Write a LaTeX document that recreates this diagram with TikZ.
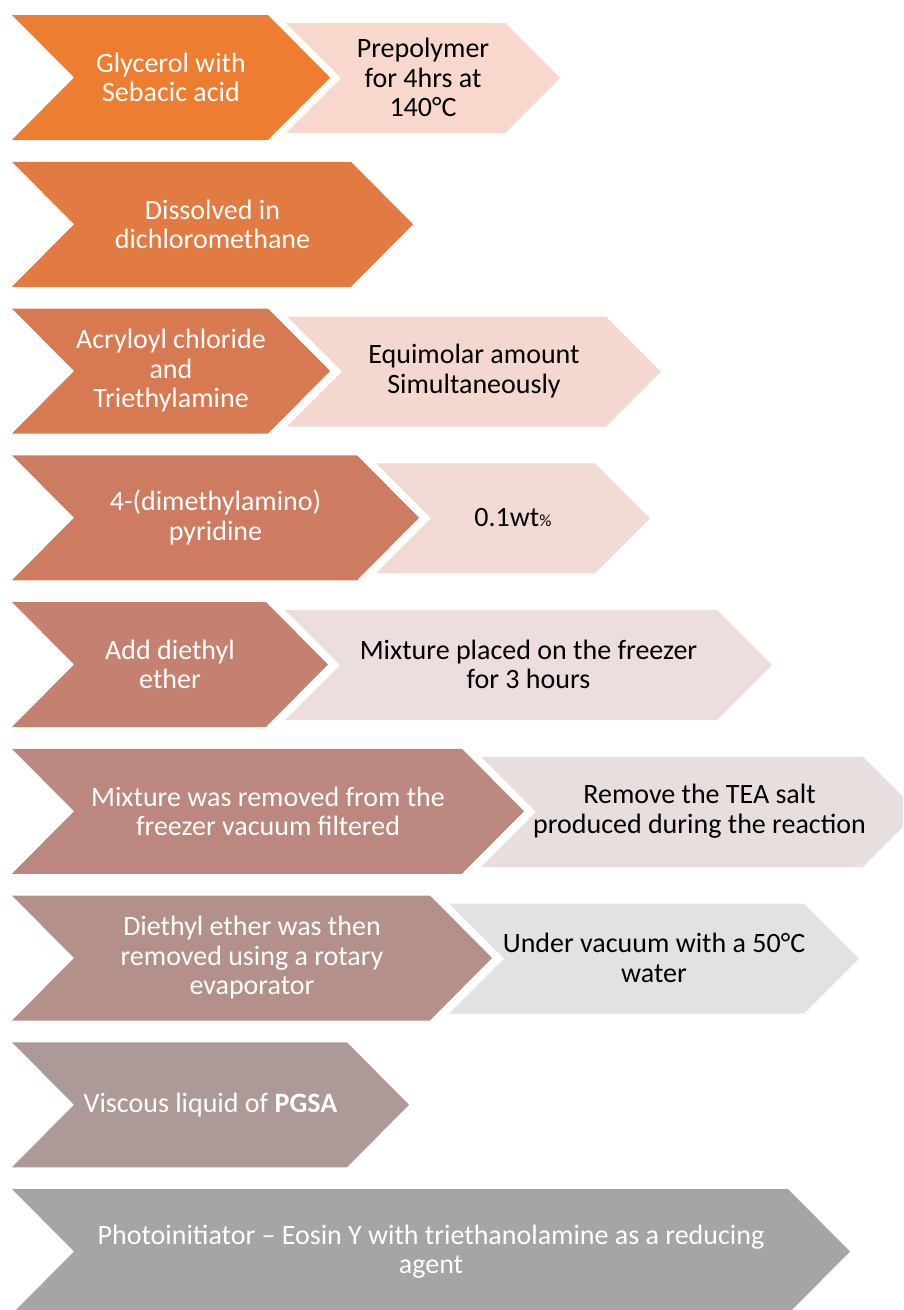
\documentclass[tikz,border=0pt]{standalone}
\usepackage{fontspec}
\setmainfont{Carlito}
\newcommand*{\steptext}{\fontsize{28}{29.5}\selectfont}
\definecolor{stepA}{RGB}{237,125,49}
\definecolor{stepB}{RGB}{226,123,66}
\definecolor{stepC}{RGB}{215,122,82}
\definecolor{stepD}{RGB}{206,124,97}
\definecolor{stepE}{RGB}{196,129,112}
\definecolor{stepF}{RGB}{188,135,126}
\definecolor{stepG}{RGB}{180,144,139}
\definecolor{stepH}{RGB}{172,153,152}
\definecolor{stepI}{RGB}{165,165,165}
\definecolor{subA}{RGB}{248,216,204}
\definecolor{subC}{RGB}{244,216,208}
\definecolor{subD}{RGB}{241,217,212}
\definecolor{subE}{RGB}{235,222,220}
\definecolor{subF}{RGB}{231,222,221}
\definecolor{subG}{RGB}{227,226,226}
\tikzset{
    maintxt/.style = {text=white,align=center,font=\steptext,inner sep=0},
    subtxt/.style = {text=black,align=center,font=\steptext,inner sep=0}
}

\begin{document}
\begin{tikzpicture}[x=1pt,y=-1pt]
        \newcommand*\rowsep{146.75}
        \clip (0,0) rectangle (903,1310);
        % Main chevrons
        \foreach \i/\tip/\col in {0/330/stepA,1/413/stepB,2/330/stepC,3/419/stepD,
                4/328/stepE,5/524/stepF,6/492/stepG,7/409/stepH,8/850/stepI}
            \fill[\col,shift={(0,\i*\rowsep)}] (12,15) -- (\tip-62,15) -- (\tip,77.5)
                -- (\tip-62,140) -- (12,140) -- (74,77.5) -- cycle;
        % Side chevrons
        \foreach \i/\lft/\tip/\col in {0/286/560/subA,2/287/661/subC,3/376/650/subD,
                4/285/772/subE,5/481/918/subF,6/449/859/subG}
            \fill[\col,shift={(0,\i*\rowsep)}] (\lft,23) -- (\tip-55,23) -- (\tip,78)
                -- (\tip-55,133) -- (\lft,133) -- (\lft+55,78) -- cycle;
        % Steps
        \path (171,77.5) node[maintxt] (glycerol) {Glycerol with\\Sebacic acid}
            (423,77.5) node[subtxt] (prepoly) {Prepolymer\\for 4hrs at\\140°C}
        ;
        \path (212.5,224.25) node[maintxt] (dissolve) {Dissolved in\\dichloromethane};
        \path (171,371) node[maintxt] (acryloyl) {Acryloyl chloride\\and\\Triethylamine}
            (474,371) node[subtxt] (equimolar) {Equimolar amount\\Simultaneously}
        ;
        \path (215.5,517.75) node[maintxt] (dmap) {4-(dimethylamino)\\pyridine}
            (513,517.75) node[subtxt] (wtpct) {0.1wt{\fontsize{17}{17}\selectfont\%}}
        ;
        \path (170,664.5) node[maintxt] (ether) {Add diethyl\\ether}
            (528.5,664.5) node[subtxt] (freezer) {Mixture placed on the freezer\\for 3 hours}
        ;
        \path (268,811.25) node[maintxt] (filter) {Mixture was removed from the\\freezer vacuum filtered}
            (699.5,811.25) node[subtxt] (teasalt) {Remove the TEA salt\\produced during the reaction}
        ;
        \path (252,958) node[maintxt] (rotavap) {Diethyl ether was then\\removed using a rotary\\evaporator}
            (654,958) node[subtxt] (vacuum) {Under vacuum with a 50°C\\water}
        ;
        \path (210.5,1104.75) node[maintxt] (pgsa) {Viscous liquid of \textbf{PGSA}};
        \path (431,1251.5) node[maintxt] (photoinit) {Photoinitiator -- Eosin Y with triethanolamine as a reducing\\agent};
    \end{tikzpicture}
\end{document}
